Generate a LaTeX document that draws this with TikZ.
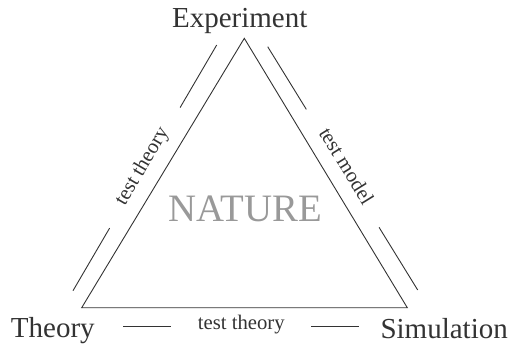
\documentclass[tikz,border=0pt]{standalone}
\usepackage{fontspec}
\setmainfont{Liberation Serif}
\usepackage{xcolor}
\definecolor{inkgray}{HTML}{333333}
\definecolor{naturegray}{HTML}{999999}
\def\cornerfs{\fontsize{29}{29}\selectfont}
\def\edgefs{\fontsize{20.7}{20.7}\selectfont}
\def\naturefs{\fontsize{38.8}{38.8}\selectfont}

\begin{document}
\begin{tikzpicture}[x=1pt, y=-1pt, line width=0.9pt, draw=inkgray, text=inkgray,
		corner/.style={font=\cornerfs, inner sep=0pt, anchor=base},
		link/.style={font=\edgefs, inner xsep=26pt, inner ysep=0pt, sloped, midway, anchor=mid}]
	\useasboundingbox (0,0) rectangle (512,346);
	% triangle corners
	\coordinate (top) at (244.3, 38.3);
	\coordinate (bl) at (81.7, 307.7);
	\coordinate (br) at (407.3, 307.7);
	\draw[line join=miter] (top) -- (bl) -- (br) -- cycle;
	% vertex labels
	\node[corner] (exp) at (239.7, 27.0) {Experiment};
	\node[corner] (theo) at (52.8, 337.0) {Theory};
	\node[corner] (sim) at (444.2, 338.0) {Simulation};
	\node[font=\naturefs, text=naturegray] (nature) at (245.3, 209.0) {NATURE};
	% parallel links
	\coordinate (l1) at (73.0, 290.7);
	\coordinate (l2) at (216.7, 45.0);
	\coordinate (r1) at (267.7, 46.7);
	\coordinate (r2) at (417.7, 290.0);
	\coordinate (b1) at (123.3, 326.7);
	\coordinate (b2) at (359.3, 326.7);
	\path (l1) -- (l2) node[link] (ltxt) {test theory};
	\path (r1) -- (r2) node[link] (rtxt) {test model};
	\path (b1) -- (b2) node[link] (btxt) {test theory};
	\draw (l1) -- (ltxt.mid west) (ltxt.mid east) -- (l2);
	\draw (r1) -- (rtxt.mid west) (rtxt.mid east) -- (r2);
	\draw (b1) -- (btxt.mid west) (btxt.mid east) -- (b2);
\end{tikzpicture}
\end{document}
